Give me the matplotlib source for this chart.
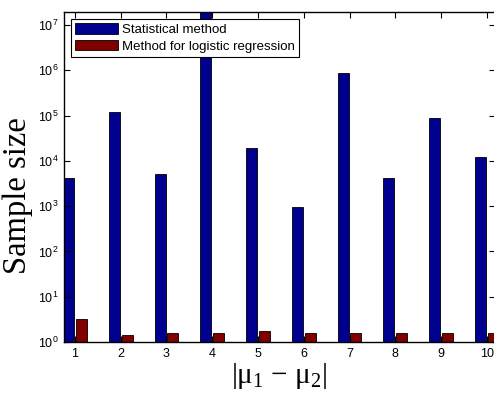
import numpy as np
import matplotlib
matplotlib.use('Agg')
import matplotlib.pyplot as plt

# values (log scale)
diffs = [1, 2, 3, 4, 5, 6, 7, 8, 9, 10]
statistical = [4100, 1.2e5, 5100, 3e7, 1.9e4, 950, 8.6e5, 4200, 8.9e4, 1.2e4]
logistic = [3.3, 1.4, 1.55, 1.6, 1.75, 1.6, 1.6, 1.6, 1.6, 1.6]

blue = '#00008f'
red = '#800000'

plt.rcParams['font.family'] = ['Liberation Sans', 'DejaVu Sans']
plt.rcParams['mathtext.fontset'] = 'custom'
plt.rcParams['mathtext.rm'] = 'Liberation Serif'

fig = plt.figure(figsize=(4.94, 3.95), dpi=100)
ax = fig.add_axes([64 / 494, 53 / 395, 431 / 494, 330 / 395])

x = np.array(diffs)
w = 0.24
ax.bar(x - 0.14, statistical, width=w, color=blue, edgecolor='black', linewidth=0.6,
       label='Statistical method')
ax.bar(x + 0.14, logistic, width=w, color=red, edgecolor='black', linewidth=0.6,
       label='Method for logistic regression')

ax.set_yscale('log')
ax.set_ylim(1, 1.94e7)
ax.set_xlim(0.76, 10.18)
ax.set_xticks(diffs)
ax.set_yticks([10 ** k for k in range(8)])
ax.minorticks_off()
ax.tick_params(direction='in', length=4, width=0.8, top=True, right=True,
               labelsize=9, pad=4)

for s in ax.spines.values():
    s.set_linewidth(1.0)
    s.set_color('black')

serif = ['Liberation Serif', 'DejaVu Serif']
ax.set_ylabel('Sample size', family=serif, fontsize=23.5, labelpad=2)
ax.yaxis.set_label_coords(-0.073, 0.443)
ax.set_xlabel(r'|μ$\mathrm{_1}$ − μ$\mathrm{_2}$|', family=serif, fontsize=21,
              labelpad=1)

leg = ax.legend(loc='upper left', fontsize=9.5, handlelength=3.3, handleheight=0.9,
                handletextpad=0.3, borderpad=0.3, labelspacing=0.3, fancybox=False,
                framealpha=1, edgecolor='black', borderaxespad=0.5)
leg.get_frame().set_linewidth(0.8)

fig.savefig('out.png', dpi=100)
